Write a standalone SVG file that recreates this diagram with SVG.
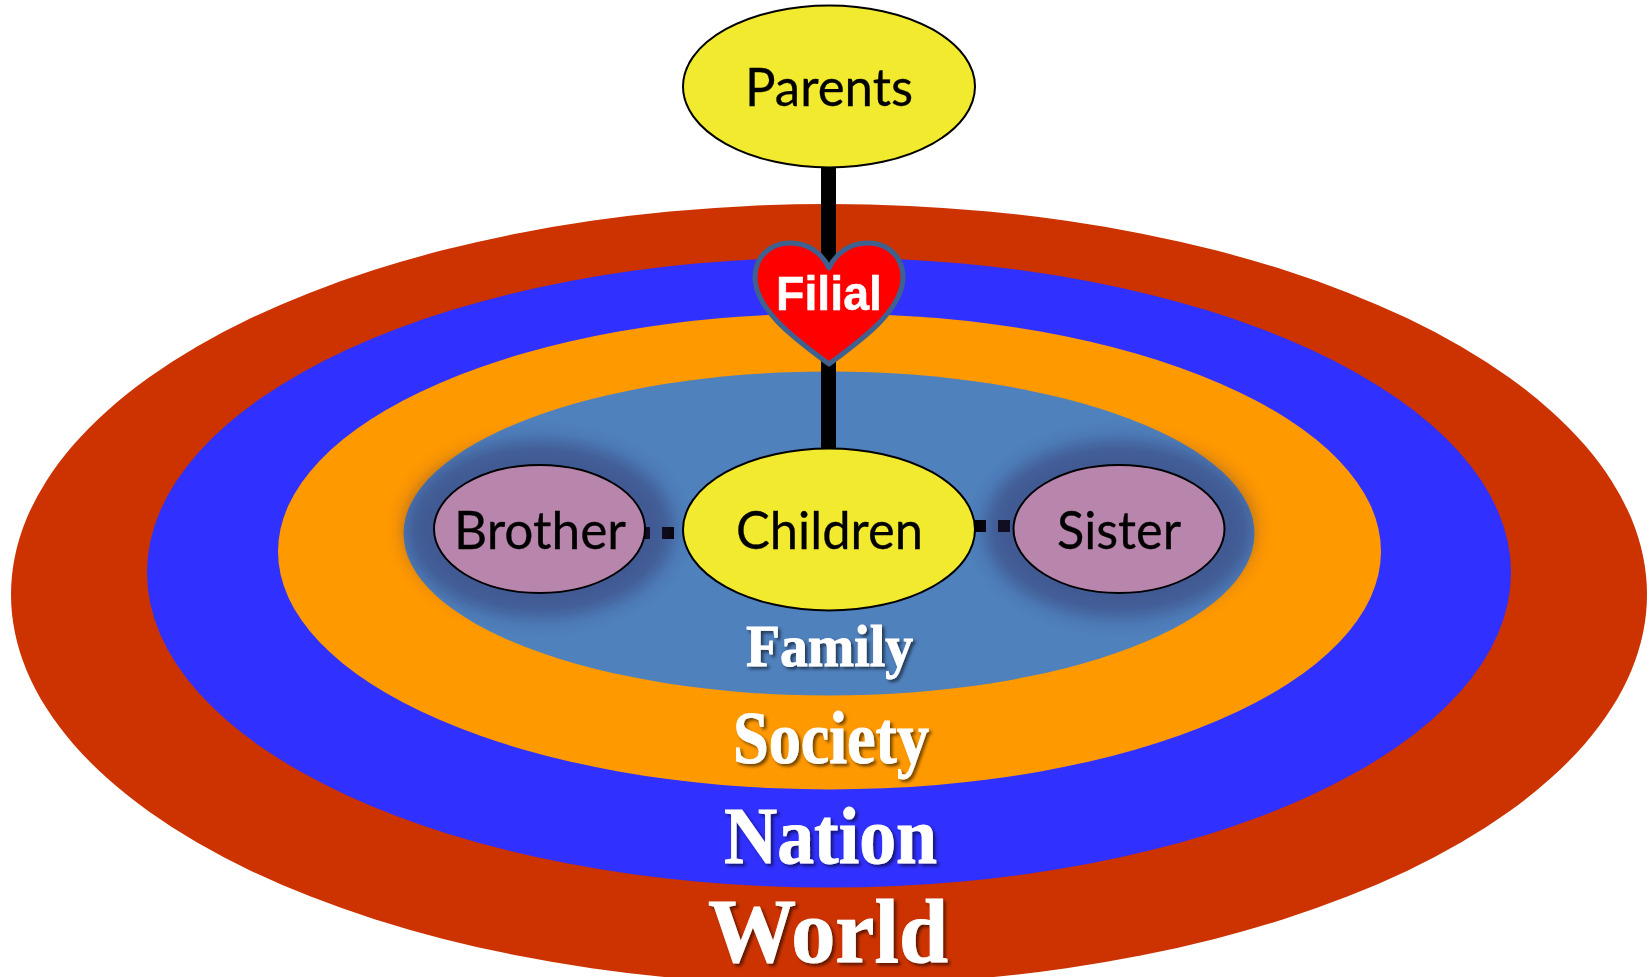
<svg xmlns="http://www.w3.org/2000/svg" width="1650" height="977" viewBox="0 0 1650 977">
<defs>
<style>
.node{stroke:#000;stroke-width:2}
.you{fill:#f2ea2e}
.sib{fill:#b886ac}
.cal{font-family:"Lato","Open Sans",sans-serif;font-size:52px;fill:#000;stroke:#000;stroke-width:.3;text-anchor:middle}
.ser{font-family:"Liberation Serif","Times New Roman",serif;font-weight:bold;fill:#fff;stroke:#fff;stroke-width:.9;text-anchor:middle;filter:url(#ts)}
</style>
<filter id="glow" x="-40%" y="-50%" width="180%" height="200%"><feGaussianBlur stdDeviation="9"/></filter>
<filter id="ts" x="-10%" y="-10%" width="125%" height="130%"><feDropShadow dx="2.5" dy="2.5" stdDeviation="1.6" flood-color="#000" flood-opacity="0.55"/></filter>
</defs>
<g id="world"><ellipse cx="829" cy="594.5" rx="818" ry="390.5" fill="#cc3300"/></g>
<g id="nation"><ellipse cx="829" cy="572.5" rx="682" ry="315" fill="#3030ff"/></g>
<g id="society"><ellipse cx="829.5" cy="551.5" rx="551.5" ry="238" fill="#ff9900"/></g>
<g id="family"><ellipse cx="829" cy="533.5" rx="425.5" ry="162" fill="#4f81bd"/></g>
<g id="connectors" stroke="#000" fill="none">
<path d="M828.5 160V452" stroke-width="15"/>
<path d="M638 533H674" stroke-width="12" stroke-dasharray="12 12"/>
<path d="M974 526H1010" stroke-width="12" stroke-dasharray="12 12"/>
</g>
<g id="glows" fill="#2f2057" opacity="0.4">
<ellipse cx="539.5" cy="529" rx="135" ry="89" filter="url(#glow)"/>
<ellipse cx="1119" cy="529" rx="135" ry="89" filter="url(#glow)"/>
</g>
<g id="parents"><ellipse class="node you" cx="829" cy="86.5" rx="146" ry="81"/><text class="cal" x="829" y="106" textLength="168" lengthAdjust="spacingAndGlyphs">Parents</text></g>
<g id="children"><ellipse class="node you" cx="829" cy="529.5" rx="146" ry="81"/><text class="cal" x="829.5" y="549" textLength="187" lengthAdjust="spacingAndGlyphs">Children</text></g>
<g id="brother"><ellipse class="node sib" cx="539.5" cy="529" rx="105.5" ry="64"/><text class="cal" x="540" y="549" textLength="172" lengthAdjust="spacingAndGlyphs">Brother</text></g>
<g id="sister"><ellipse class="node sib" cx="1119" cy="529" rx="105.5" ry="64"/><text class="cal" x="1119" y="549" textLength="124" lengthAdjust="spacingAndGlyphs">Sister</text></g>
<g id="filial"><path d="M829 364C800 342 756 312 755 278C755 255 772 243 790 243C808 243 822 253 829 268C836 253 850 243 868 243C886 243 903 255 903 278C902 312 858 342 829 364Z" fill="#f00" stroke="#3f6190" stroke-width="5" stroke-linejoin="round"/><text x="829" y="310" font-family="Liberation Sans,Arial,sans-serif" font-weight="bold" font-size="49" fill="#fff" stroke="#fff" stroke-width=".5" text-anchor="middle" textLength="106" lengthAdjust="spacingAndGlyphs">Filial</text></g>
<text class="ser" x="829.5" y="666" font-size="59" textLength="167" lengthAdjust="spacingAndGlyphs">Family</text>
<text class="ser" x="831" y="763" font-size="74" textLength="196" lengthAdjust="spacingAndGlyphs">Society</text>
<text class="ser" x="830.5" y="863" font-size="81" textLength="213" lengthAdjust="spacingAndGlyphs">Nation</text>
<text class="ser" x="828" y="962" font-size="90" textLength="240" lengthAdjust="spacingAndGlyphs">World</text>
</svg>
